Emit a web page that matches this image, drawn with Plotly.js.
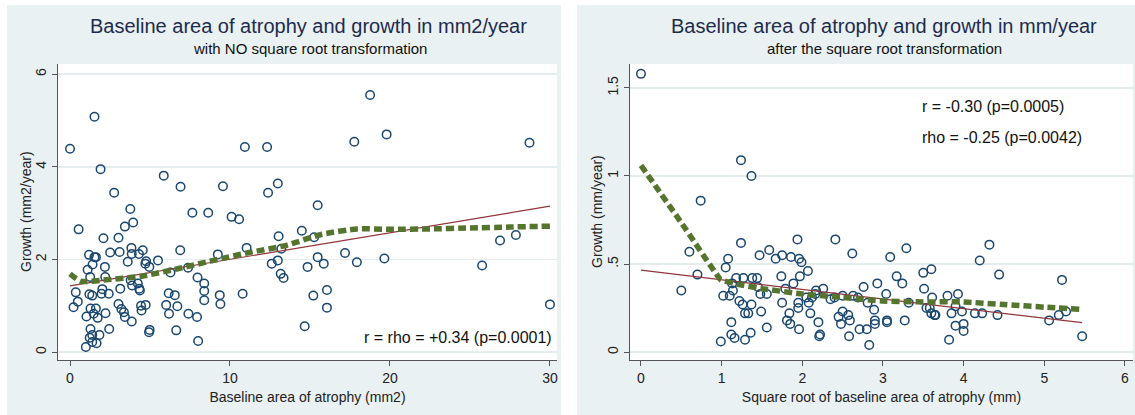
<!DOCTYPE html>
<html>
<head>
<meta charset="utf-8">
<script src="https://cdn.plot.ly/plotly-3.0.1.min.js"></script>
<style>html,body{margin:0;padding:0;background:#fff;}#chart{width:1135px;height:415px;}</style>
</head>
<body>
<div id="chart"></div>
<script>
// Left panel: baseline area (mm2) vs growth (mm2/year)
const leftX = [0,1.53,1.91,0.54,2.76,3.77,3.95,3.43,3.03,2.09,5.86,6.91,9.56,7.65,8.64,10.10,10.57,10.93,12.32,12.38,12.99,17.77,18.76,19.79,28.72,15.48,14.49,15.26,13.04,13.21,11.04,12.99,12.61,13.17,13.35,15.48,14.85,15.86,17.19,17.93,19.65,26.88,27.87,25.76,30.0,16.06,15.21,16.06,14.67,10.79,9.24,6.89,5.50,6.28,7.38,7.97,8.39,8.39,8.39,9.36,9.40,6.17,6.55,6.01,6.71,6.19,7.40,7.94,6.64,8.01,4.94,4.98,4.73,4.44,4.47,4.71,4.55,4.31,3.84,3.86,3.61,2.51,3.10,2.18,1.19,1.53,1.62,1.41,1.10,1.26,2.20,3.14,3.79,3.88,4.24,4.33,4.37,4.76,4.96,2.02,1.97,2.42,1.21,1.39,0.36,0.49,0.22,1.28,1.62,1.48,1.03,1.73,2.22,3.03,3.21,3.37,3.43,3.86,2.45,1.84,1.28,1.23,1.39,1.66,0.99,1.39];
const leftY = [4.39,5.08,3.95,2.65,3.44,3.09,2.80,2.71,2.47,2.46,3.81,3.57,3.58,3.01,3.01,2.92,2.87,4.43,4.43,3.44,3.64,4.54,5.55,4.70,4.52,3.17,2.62,2.48,2.50,2.23,2.25,1.98,1.91,1.69,1.60,2.05,1.84,1.91,2.14,1.94,2.02,2.41,2.53,1.87,1.03,1.34,1.22,0.96,0.56,1.26,2.11,2.20,1.98,1.72,1.82,1.61,1.48,1.32,1.12,1.23,1.04,1.27,1.23,1.02,0.99,0.83,0.83,0.76,0.47,0.24,0.43,0.48,1.02,1.00,0.90,1.91,2.20,2.12,2.25,2.12,1.95,2.15,2.16,1.84,2.10,2.05,2.05,1.89,1.78,1.62,1.62,1.37,1.55,1.44,1.48,1.37,1.33,1.96,1.84,1.36,1.26,1.26,1.25,1.22,1.29,1.09,0.97,0.94,0.94,0.83,0.77,0.74,0.84,1.04,0.93,0.86,0.76,0.66,0.50,0.37,0.50,0.31,0.22,0.19,0.11,0.37];
const leftFitX = [0, 30];
const leftFitY = [1.43, 3.15];
const leftLowessX = [0, 0.67, 2.24, 4.49, 6.73, 8.97, 11.2, 13.46, 15.7, 17.95, 20, 22.5, 25, 27.5, 30];
const leftLowessY = [1.69, 1.53, 1.56, 1.64, 1.80, 1.98, 2.15, 2.30, 2.54, 2.66, 2.65, 2.66, 2.68, 2.70, 2.72];

// Right panel: sqrt(baseline area) (mm) vs growth (mm/year)
const rightX = [0,0.50,0.60,0.70,0.74,1.24,1.37,1.24,1.08,1.05,1.02,1.10,1.14,1.13,1.18,1.27,1.38,1.44,1.45,1.47,1.59,1.67,1.75,1.86,1.94,1.96,1.99,1.74,1.89,1.97,2.07,2.41,2.62,3.09,3.29,3.17,3.24,2.93,2.76,3.04,3.50,3.60,3.51,3.61,3.80,3.93,4.20,4.32,4.44,5.22,5.06,5.18,5.27,5.47,4.42,4.14,4.23,4.00,4.00,3.90,3.85,3.90,3.98,3.82,3.64,3.58,3.54,3.60,3.65,3.27,3.32,3.05,3.05,2.90,2.90,2.89,2.83,2.80,2.71,2.81,2.69,2.63,2.59,2.57,2.58,2.50,2.50,2.48,2.45,2.35,2.40,2.26,2.17,2.16,2.08,2.05,2.12,2.10,2.20,2.22,2.21,1.95,1.95,1.96,1.84,1.81,1.85,1.75,1.79,1.56,1.56,1.49,1.48,1.37,1.29,1.33,1.22,1.26,1.12,1.12,1.16,1.29,1.36,0.99];
const rightY = [1.58,0.35,0.57,0.44,0.86,1.09,1.00,0.62,0.53,0.48,0.32,0.32,0.35,0.39,0.42,0.42,0.42,0.42,0.37,0.55,0.58,0.53,0.55,0.54,0.64,0.53,0.51,0.43,0.39,0.43,0.46,0.64,0.56,0.54,0.59,0.43,0.39,0.39,0.37,0.33,0.45,0.47,0.36,0.31,0.32,0.33,0.52,0.61,0.44,0.41,0.18,0.21,0.23,0.09,0.21,0.22,0.22,0.16,0.12,0.15,0.22,0.26,0.23,0.07,0.21,0.25,0.25,0.22,0.21,0.18,0.28,0.18,0.17,0.18,0.16,0.24,0.04,0.13,0.13,0.28,0.31,0.32,0.18,0.21,0.09,0.32,0.23,0.16,0.20,0.30,0.31,0.36,0.35,0.33,0.28,0.31,0.31,0.22,0.17,0.10,0.09,0.28,0.25,0.13,0.22,0.18,0.16,0.28,0.36,0.14,0.33,0.23,0.33,0.27,0.22,0.22,0.29,0.27,0.17,0.10,0.08,0.07,0.11,0.06];
const rightFitX = [0, 5.47];
const rightFitY = [0.465, 0.167];
const rightLowessX = [0, 0.5, 0.99, 1.2, 1.5, 2, 2.5, 3, 3.5, 4, 4.5, 5, 5.45];
const rightLowessY = [1.06, 0.735, 0.41, 0.385, 0.36, 0.33, 0.31, 0.29, 0.285, 0.285, 0.27, 0.255, 0.243];

const leftXTicks = [0, 10, 20, 30];
const leftYTicks = [0, 2, 4, 6];
const rightXTicks = [0, 1, 2, 3, 4, 5, 6];
const rightYTicks = [0, 0.5, 1, 1.5];
const rightYTickText = ['0', '.5', '1', '1.5'];

const W = 1135, H = 415;
const px = v => v / W, py = v => 1 - v / H;

const navy = '#1a476f', maroon = '#90353b', green = '#55752f';
const FONT = 'Liberation Sans, Arial, sans-serif';

const scatter = (x, y, xa, ya) => ({
  x, y, xaxis: xa, yaxis: ya, type: 'scatter', mode: 'markers',
  marker: {symbol: 'circle-open', size: 8.5, color: navy, line: {width: 1.5, color: navy}},
  hoverinfo: 'skip', showlegend: false
});
const fit = (x, y, xa, ya) => ({
  x, y, xaxis: xa, yaxis: ya, type: 'scatter', mode: 'lines',
  line: {color: maroon, width: 1.2}, hoverinfo: 'skip', showlegend: false
});
const lowess = (x, y, xa, ya, sm) => ({
  x, y, xaxis: xa, yaxis: ya, type: 'scatter', mode: 'lines',
  line: {color: green, width: 5.5, dash: '8px,4px', shape: 'spline', smoothing: sm},
  hoverinfo: 'skip', showlegend: false
});

const data = [
  scatter(leftX, leftY, 'x', 'y'),
  fit(leftFitX, leftFitY, 'x', 'y'),
  lowess(leftLowessX, leftLowessY, 'x', 'y', 0.6),
  scatter(rightX, rightY, 'x2', 'y2'),
  fit(rightFitX, rightFitY, 'x2', 'y2'),
  lowess(rightLowessX, rightLowessY, 'x2', 'y2', 0.2)
];

const axCommon = {
  showline: true, linecolor: '#555', linewidth: 1,
  ticks: 'outside', ticklen: 5, tickcolor: '#555', tickwidth: 1,
  tickfont: {family: FONT, size: 14, color: '#222'},
  zeroline: false, fixedrange: true
};
const titleFont = {family: FONT, size: 14, color: '#222'};

const layout = {
  width: W, height: H,
  margin: {l: 0, r: 0, t: 0, b: 0},
  paper_bgcolor: '#ffffff',
  plot_bgcolor: '#ffffff',
  showlegend: false,
  xaxis: Object.assign({}, axCommon, {
    domain: [px(58), px(557)], range: [-0.75, 30.44],
    tickvals: leftXTicks, showgrid: false, anchor: 'y',
    title: {text: 'Baseline area of atrophy (mm2)', font: titleFont, standoff: 7}
  }),
  yaxis: Object.assign({}, axCommon, {
    domain: [py(360), py(64)], range: [-0.17, 6.22],
    tickvals: leftYTicks, tickangle: -90, anchor: 'x',
    showgrid: true, gridcolor: '#e5edef', gridwidth: 1.5
  }),
  xaxis2: Object.assign({}, axCommon, {
    domain: [px(630), px(1133)], range: [-0.136, 6.10],
    tickvals: rightXTicks, showgrid: false, anchor: 'y2',
    title: {text: 'Square root of baseline area of atrophy (mm)', font: titleFont, standoff: 7}
  }),
  yaxis2: Object.assign({}, axCommon, {
    domain: [py(360), py(64)], range: [-0.045, 1.636],
    tickvals: rightYTicks, ticktext: rightYTickText, tickangle: -90, anchor: 'x2',
    showgrid: true, gridcolor: '#e5edef', gridwidth: 1.5
  }),
  shapes: [
    {type: 'rect', xref: 'paper', yref: 'paper', x0: px(7), x1: px(561), y0: 0, y1: py(5),
     fillcolor: '#eaf1f3', line: {width: 0}, layer: 'below'},
    {type: 'rect', xref: 'paper', yref: 'paper', x0: px(577), x1: 1, y0: 0, y1: py(5),
     fillcolor: '#eaf1f3', line: {width: 0}, layer: 'below'},
    {type: 'rect', xref: 'paper', yref: 'paper', x0: px(58), x1: px(557), y0: py(360), y1: py(64),
     fillcolor: '#ffffff', line: {width: 0}, layer: 'below'},
    {type: 'rect', xref: 'paper', yref: 'paper', x0: px(630), x1: px(1133), y0: py(360), y1: py(64),
     fillcolor: '#ffffff', line: {width: 0}, layer: 'below'}
  ],
  annotations: [
    {text: 'Baseline area of atrophy and growth in mm2/year', xref: 'paper', yref: 'paper',
     x: px(309), y: py(26), xanchor: 'center', yanchor: 'middle', showarrow: false,
     font: {family: FONT, size: 20, color: '#1e2b4d'}},
    {text: 'with NO square root transformation', xref: 'paper', yref: 'paper',
     x: px(310), y: py(49), xanchor: 'center', yanchor: 'middle', showarrow: false,
     font: {family: FONT, size: 15, color: '#111'}},
    {text: 'Baseline area of atrophy and growth in mm/year', xref: 'paper', yref: 'paper',
     x: px(884), y: py(26), xanchor: 'center', yanchor: 'middle', showarrow: false,
     font: {family: FONT, size: 20, color: '#1e2b4d'}},
    {text: 'after the square root transformation', xref: 'paper', yref: 'paper',
     x: px(884), y: py(49), xanchor: 'center', yanchor: 'middle', showarrow: false,
     font: {family: FONT, size: 15, color: '#111'}},
    {text: 'Growth (mm2/year)', xref: 'paper', yref: 'paper', textangle: -90,
     x: px(26), y: py(212), xanchor: 'center', yanchor: 'middle', showarrow: false,
     font: titleFont},
    {text: 'Growth (mm/year)', xref: 'paper', yref: 'paper', textangle: -90,
     x: px(597), y: py(212), xanchor: 'center', yanchor: 'middle', showarrow: false,
     font: titleFont},
    {text: 'r = rho = +0.34 (p=0.0001)', xref: 'paper', yref: 'paper',
     x: px(554), y: py(337), xanchor: 'right', yanchor: 'middle', showarrow: false,
     font: {family: FONT, size: 16, color: '#111'}},
    {text: 'r = -0.30 (p=0.0005)', xref: 'paper', yref: 'paper',
     x: px(920), y: py(107), xanchor: 'left', yanchor: 'middle', showarrow: false,
     font: {family: FONT, size: 16, color: '#111'}},
    {text: 'rho = -0.25 (p=0.0042)', xref: 'paper', yref: 'paper',
     x: px(920), y: py(137), xanchor: 'left', yanchor: 'middle', showarrow: false,
     font: {family: FONT, size: 16, color: '#111'}}
  ]
};

Plotly.newPlot('chart', data, layout, {staticPlot: true, displayModeBar: false});
</script>
</body>
</html>
